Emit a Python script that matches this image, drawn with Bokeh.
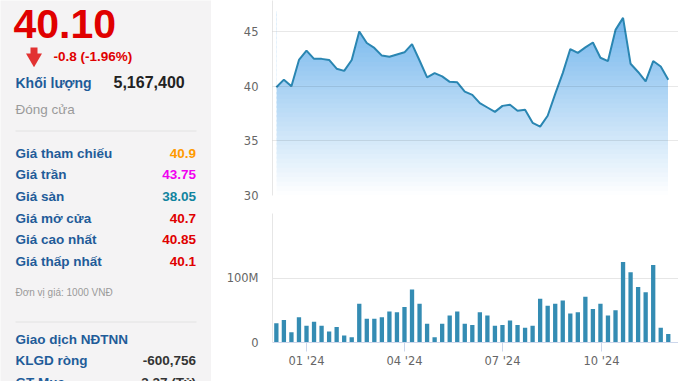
import numpy as np
import pandas as pd
from bokeh.plotting import figure
from bokeh.models import Range1d, FixedTicker, ColumnDataSource
from bokeh.layouts import row, column
from bokeh.core.properties import value
from bokeh.embed import file_html
from bokeh.resources import INLINE

# ---------------- data ----------------
first_week = "2023-12-04"
n_weeks = 53
price = [39.9, 40.6, 40.0, 42.4, 43.25, 42.5, 42.5, 42.4, 41.6, 41.4,
         42.4, 45.0, 43.95, 43.5, 42.8, 42.7, 42.9, 43.1, 43.85, 42.35,
         40.8, 41.2, 40.9, 40.4, 40.35, 39.5, 39.2, 38.45, 38.05, 37.65,
         38.2, 38.3, 37.75, 37.85, 36.65, 36.3, 37.3, 39.3, 41.2, 43.4,
         43.05, 43.55, 44.0, 42.6, 42.3, 45.15, 46.25, 42.05, 41.3, 40.45,
         42.3, 41.8, 40.6]
volume_m = [30, 35, 16, 39, 26, 32, 26, 17, 24, 11,
            8, 60, 37, 37, 39, 48, 47, 55, 82, 60,
            29, 8, 29, 42, 48, 29, 27, 47, 42, 26,
            27, 34, 27, 23, 26, 68, 57, 60, 65, 45,
            47, 71, 52, 60, 42, 50, 125, 109, 86, 78,
            120, 23, 13]
price_ticks = [30, 35, 40, 45]
vol_ticks = [0, 100_000_000, 200_000_000]
vol_tick_labels = ["0", "100M", ""]
quarter_dates = ["2024-01-01", "2024-04-01", "2024-07-01", "2024-10-01"]
quarter_labels = ["01 '24", "04 '24", "07 '24", "10 '24"]

last_price = "40.10"
change_text = "-0.8 (-1.96%)"
volume_label = "Khối lượng"
volume_value = "5,167,400"
status_text = "Đóng cửa"
row_labels = ["Giá tham chiếu", "Giá trần", "Giá sàn", "Giá mở cửa", "Giá cao nhất", "Giá thấp nhất"]
row_values = ["40.9", "43.75", "38.05", "40.7", "40.85", "40.1"]
row_colors = ["#ff9a00", "#f000f0", "#10849f", "#e00000", "#e00000", "#e00000"]
unit_text = "Đơn vị giá: 1000 VNĐ"
foreign_title = "Giao dịch NĐTNN"
foreign_labels = ["KLGD ròng", "GT Mua"]
foreign_values = ["-600,756", "3.27 (Tỷ)"]

# ---------------- styles ----------------
PANEL_BG = "#f4f3f4"
BLUE_TXT = "#1f5c99"
RED = "#e00000"
LINE_C = "#2a86b2"
BAR_C = "#348cb3"
GRID_C = "#e6e6e6"
AXIS_C = "#ccd6eb"
LBL_C = "#666666"
SANS = value("Liberation Sans")
AX_FONT = "DejaVu Sans"

dates = pd.date_range(first_week, periods=n_weeks, freq="7D")
price_arr = np.array(price)
vol = np.array(volume_m) * 1_000_000
xr = Range1d(start=pd.Timestamp("2023-11-30 10:00"), end=pd.Timestamp("2024-12-11 12:00"))

# ---------------- left info panel ----------------
panel = figure(width=211, height=381, x_range=Range1d(0, 211), y_range=Range1d(381, 0),
               x_axis_type=None, y_axis_type=None, toolbar_location=None,
               output_backend="svg", min_border=0, outline_line_color=None,
               background_fill_color=PANEL_BG, border_fill_color=PANEL_BG)


def txt(x, y, t, size, color, bold=True, align="left"):
    n = len(t)
    panel.text(x=x if isinstance(x, list) else [x] * n, y=y, text=t, text_font=SANS,
               text_font_style="bold" if bold else "normal", text_font_size=size,
               text_color=color, text_baseline="middle", text_align=align)


txt(13, [23], [last_price], "41px", RED)
# down arrow icon
panel.quad(left=[30], right=[37], top=[47], bottom=[55.5], fill_color="#e23232", line_color=None)
panel.scatter(x=[33.5], y=[57.5], marker="inverted_triangle", size=16,
              fill_color="#e23232", line_color=None)
txt(53, [56.2], [change_text], "13.5px", RED)
txt(15, [82.4], [volume_label], "14px", BLUE_TXT)
txt(113, [81.8], [volume_value], "16px", "#222222")
txt(15, [108.6], [status_text], "13.5px", "#9a9a9a", bold=False)
panel.segment(x0=[15, 15], y0=[130.5, 321.5], x1=[196, 196], y1=[130.5, 321.5],
              line_color="#e2e2e2", line_width=1)

row_y = [152.6 + 21.7 * i for i in range(len(row_labels))]
txt(15, row_y, row_labels, "13.5px", BLUE_TXT)
txt(195.5, row_y, row_values, "13.5px", row_colors, align="right")
txt(15, [292], [unit_text], "10px", "#9a9a9a", bold=False)
txt(15, [339], [foreign_title], "13.5px", BLUE_TXT)
f_y = [360.3, 382]
txt(15, f_y, foreign_labels, "13.5px", BLUE_TXT)
txt(195.5, f_y, foreign_values, "13.5px", "#333333", align="right")

# ---------------- price chart ----------------
pp = figure(width=467, height=208, x_axis_type="datetime", x_range=xr,
            y_range=Range1d(30, 47.84), toolbar_location=None, output_backend="svg",
            min_border_left=61, min_border_right=0, min_border_top=0, min_border_bottom=13,
            outline_line_color=None)
pp.xaxis.visible = False
pp.xgrid.visible = False

# vertical gradient under the line: horizontal colour bands, then white mask above the line
band_top = max(price) + 0.6
lv = np.linspace(30, band_top, 41)
top_rgb = (112, 180, 236)
cols = []
for L0, L1 in zip(lv[:-1], lv[1:]):
    t = min(1.0, max(0.0, ((L0 + L1) / 2 - 30) / (46.5 - 30)))
    c = tuple(int(round(255 - t * (255 - v))) for v in top_rgb)
    cols.append("#%02x%02x%02x" % c)
inset = pd.Timedelta(hours=6)
band_src = ColumnDataSource(dict(left=[dates[0] + inset] * len(cols),
                                 right=[dates[-1] - inset] * len(cols),
                                 bottom=lv[:-1], top=np.minimum(lv[1:] + 0.2, band_top),
                                 color=cols))
pp.quad(left="left", right="right", bottom="bottom", top="top", fill_color="color",
        line_color=None, source=band_src)
pp.varea(x=dates, y1=price_arr, y2=band_top + 0.5, fill_color="white")
pp.line(x=dates, y=price_arr, line_color=LINE_C, line_width=2)

pp.yaxis.ticker = FixedTicker(ticks=price_ticks)
pp.ygrid.ticker = FixedTicker(ticks=price_ticks)
pp.ygrid.grid_line_color = "#000000"
pp.ygrid.grid_line_alpha = 0.09
pp.ygrid.level = "overlay"
pp.yaxis.axis_line_color = GRID_C
pp.yaxis.major_tick_line_color = None
pp.yaxis.minor_tick_line_color = None
pp.yaxis.major_label_standoff = 8
pp.yaxis.major_label_text_font = AX_FONT
pp.yaxis.major_label_text_font_size = "11.5px"
pp.yaxis.major_label_text_color = LBL_C

# ---------------- volume chart ----------------
vp = figure(width=467, height=173, x_axis_type="datetime", x_range=xr,
            y_range=Range1d(0, 200_000_000), toolbar_location=None, output_backend="svg",
            min_border_left=61, min_border_right=0, min_border_top=5, min_border_bottom=39,
            outline_line_color=None)
vp.vbar(x=dates, top=vol, width=4 * 86_400_000, fill_color=BAR_C, line_color=None)
vp.xgrid.visible = False
vp.ygrid.ticker = FixedTicker(ticks=vol_ticks)
vp.ygrid.grid_line_color = GRID_C
vp.yaxis.ticker = FixedTicker(ticks=vol_ticks)
vp.yaxis.major_label_overrides = {t: s for t, s in zip(vol_ticks, vol_tick_labels)}
vp.yaxis.axis_line_color = GRID_C
vp.yaxis.major_tick_line_color = None
vp.yaxis.minor_tick_line_color = None
vp.yaxis.major_label_standoff = 8
vp.yaxis.major_label_text_font = AX_FONT
vp.yaxis.major_label_text_font_size = "11.5px"
vp.yaxis.major_label_text_color = LBL_C

q_ms = [int(pd.Timestamp(d).value // 1_000_000) for d in quarter_dates]
vp.xaxis.ticker = FixedTicker(ticks=q_ms)
vp.xaxis.major_label_overrides = {t: s for t, s in zip(q_ms, quarter_labels)}
vp.xaxis.axis_line_color = AXIS_C
vp.xaxis.major_tick_line_color = AXIS_C
vp.xaxis.major_tick_out = 9
vp.xaxis.major_tick_in = 0
vp.xaxis.minor_tick_line_color = None
vp.xaxis.major_label_standoff = 2
vp.xaxis.major_label_text_font = AX_FONT
vp.xaxis.major_label_text_font_size = "11.5px"
vp.xaxis.major_label_text_color = LBL_C

layout = row(panel, column(pp, vp, spacing=0), spacing=0)

with open("out.html", "w") as f:
    f.write(file_html(layout, INLINE))
